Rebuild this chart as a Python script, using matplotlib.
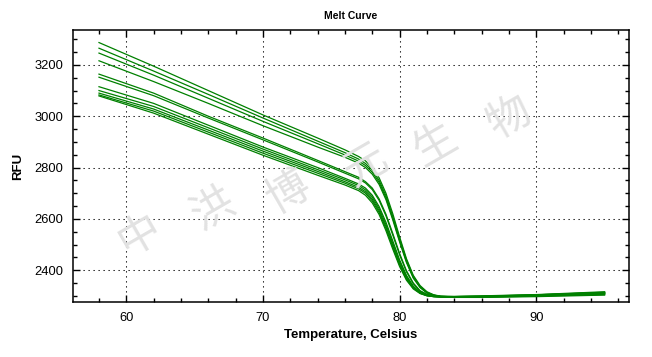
import matplotlib
matplotlib.use("Agg")
import matplotlib.pyplot as plt
from matplotlib.ticker import MultipleLocator

plt.rcParams['font.family'] = ['Liberation Sans', 'DejaVu Sans']

# temperature points (Celsius)
temps = [58, 62, 66, 70, 74, 76, 77, 77.5, 78, 78.5, 79, 79.5, 80, 80.5,
         81, 81.5, 82, 82.5, 83, 84, 86, 90, 95]

# RFU readings per well
rfu_1 = [3287, 3195, 3100, 3005, 2915, 2869, 2843, 2826, 2800, 2760, 2700, 2620,
         2530, 2445, 2380, 2340, 2316, 2304, 2299, 2297, 2298, 2304, 2314]
rfu_2 = [3265, 3176, 3085, 2993, 2903, 2858, 2833, 2816, 2790, 2750, 2690, 2610,
         2522, 2440, 2376, 2337, 2314, 2303, 2298, 2296, 2297, 2302, 2311]
rfu_3 = [3246, 3160, 3070, 2980, 2893, 2849, 2825, 2808, 2782, 2742, 2682, 2602,
         2515, 2434, 2372, 2334, 2312, 2302, 2298, 2297, 2298, 2303, 2312]
rfu_4 = [3216, 3135, 3050, 2963, 2880, 2840, 2817, 2800, 2774, 2734, 2675, 2596,
         2510, 2430, 2369, 2332, 2311, 2302, 2298, 2296, 2296, 2300, 2308]
rfu_5 = [3164, 3090, 3000, 2915, 2828, 2784, 2762, 2745, 2720, 2678, 2618, 2543,
         2465, 2398, 2350, 2320, 2306, 2300, 2297, 2296, 2297, 2301, 2309]
rfu_6 = [3152, 3080, 2993, 2908, 2822, 2778, 2756, 2740, 2714, 2672, 2612, 2537,
         2460, 2394, 2347, 2318, 2305, 2299, 2297, 2298, 2300, 2305, 2316]
rfu_7 = [3115, 3050, 2965, 2880, 2800, 2758, 2736, 2720, 2692, 2648, 2587, 2514,
         2440, 2380, 2338, 2314, 2303, 2298, 2296, 2295, 2295, 2299, 2305]
rfu_8 = [3100, 3038, 2955, 2872, 2792, 2752, 2730, 2713, 2685, 2640, 2578, 2505,
         2433, 2375, 2335, 2312, 2302, 2298, 2296, 2297, 2299, 2304, 2313]
rfu_9 = [3090, 3028, 2946, 2864, 2785, 2745, 2723, 2706, 2677, 2632, 2570, 2497,
         2426, 2370, 2332, 2311, 2301, 2297, 2296, 2294, 2294, 2297, 2303]
rfu_10 = [3083, 3020, 2938, 2856, 2778, 2739, 2717, 2700, 2670, 2625, 2562, 2490,
          2420, 2365, 2330, 2310, 2301, 2297, 2296, 2296, 2297, 2302, 2310]
rfu_11 = [3079, 3012, 2930, 2848, 2770, 2732, 2710, 2692, 2662, 2617, 2554, 2482,
          2414, 2361, 2327, 2309, 2300, 2297, 2296, 2295, 2296, 2300, 2307]

wells = [rfu_1, rfu_2, rfu_3, rfu_4, rfu_5, rfu_6, rfu_7, rfu_8, rfu_9, rfu_10, rfu_11]

watermark = ['中', '洪', '博', '元', '生', '物']

fig = plt.figure(figsize=(6.52, 3.57), dpi=100)
ax = fig.add_axes([0.112, 0.154, 0.853, 0.762])

for w in wells:
    ax.plot(temps, w, color='#008000', lw=0.9, zorder=3)

ax.set_xlim(56.1, 96.8)
ax.set_ylim(2276, 3336)
ax.xaxis.set_major_locator(MultipleLocator(10))
ax.xaxis.set_minor_locator(MultipleLocator(2))
ax.yaxis.set_major_locator(MultipleLocator(200))
ax.yaxis.set_minor_locator(MultipleLocator(50))
ax.tick_params(which='both', direction='in', top=True, right=True,
               color='black', labelsize=9.3, width=1)
ax.tick_params(which='major', length=5, pad=7)
ax.tick_params(which='minor', length=2.8)
ax.grid(True, which='major', color='black', lw=0.75, linestyle=(0, (1.2, 3.6)))
for s in ax.spines.values():
    s.set_linewidth(1.1)

ax.set_title('Melt Curve', fontsize=7.5, fontweight='bold', pad=8)
ax.set_xlabel('Temperature, Celsius', fontsize=9.5, fontweight='bold', labelpad=4)
ax.set_ylabel('RFU', fontsize=9.5, fontweight='bold', labelpad=7)

# watermark characters
wm_x = [140, 213, 288, 366, 435, 510]
wm_y = [235, 210, 193, 165, 145, 118]
for ch, px, py in zip(watermark, wm_x, wm_y):
    fig.text(px / 652, 1 - py / 357, ch, fontsize=31, color='#e2e2e2',
             rotation=30, ha='center', va='center', zorder=1,
             family=['Noto Sans CJK SC', 'DejaVu Sans'])

fig.savefig('out.png', dpi=100)
